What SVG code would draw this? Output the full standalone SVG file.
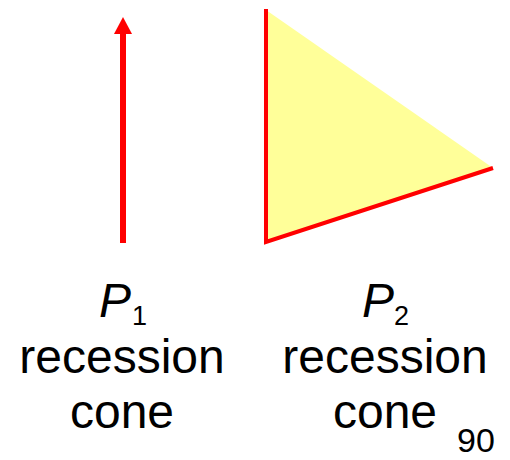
<svg xmlns="http://www.w3.org/2000/svg" width="510" height="460" viewBox="0 0 510 460">
<style>
text{font-family:"Liberation Sans",Arial,sans-serif;fill:#000}
.lbl{font-size:48px;text-anchor:middle}
.p{font-size:48px;font-style:italic}
.sub{font-size:27px}
.red{stroke:#FF0000;fill:none}
</style>
<rect width="510" height="460" fill="#fff"/>
<g id="cone1">
<line class="red" x1="123" y1="243" x2="123" y2="33" stroke-width="6"/>
<polygon points="114,34 132,34 123,17" fill="#FF0000"/>
</g>
<g id="cone2">
<polygon points="266,10 493,168 266,243" fill="#FFFF99"/>
<polyline class="red" points="266,9 266,242 493,168" stroke-width="4"/>
</g>
<g id="label1">
<text class="p" x="99" y="317">P</text>
<text class="sub" x="132" y="325">1</text>
<text class="lbl" x="122" y="373">recession</text>
<text class="lbl" x="122" y="428">cone</text>
</g>
<g id="label2">
<text class="p" x="362" y="317">P</text>
<text class="sub" x="394" y="325">2</text>
<text class="lbl" x="385" y="373">recession</text>
<text class="lbl" x="385" y="428">cone</text>
</g>
<text id="page" x="457" y="452" font-size="34">90</text>
</svg>
